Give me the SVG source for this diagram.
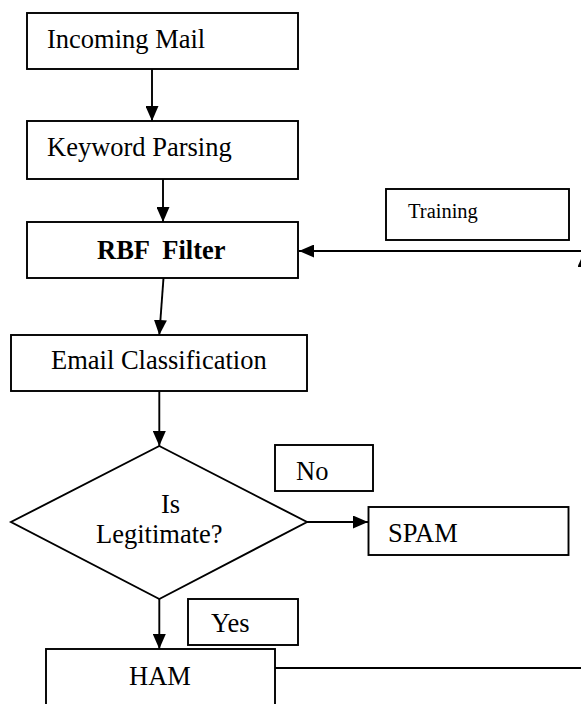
<svg xmlns="http://www.w3.org/2000/svg" width="581" height="704" viewBox="0 0 581 704">
  <style>
    .box { fill: #ffffff; stroke: #000000; stroke-width: 1.9; }
    .lbl { font-family: "Liberation Serif", "Times New Roman", serif; font-size: 26.5px; fill: #000000; }
    .small { font-size: 20.5px; }
    .bold { font-weight: bold; white-space: pre; }
    .wire { fill: none; stroke: #000000; stroke-width: 1.9; }
  </style>
  <defs>
    <marker id="arrow" markerUnits="userSpaceOnUse" markerWidth="15" markerHeight="13" refX="15" refY="6.5" orient="auto">
      <path d="M0,0 L15,6.5 L0,13 z" fill="#000000"/>
    </marker>
  </defs>

  <rect width="581" height="704" fill="#ffffff"/>

  <!-- flow connectors -->
  <g id="connectors">
    <line class="wire" x1="152" y1="69" x2="152" y2="121" marker-end="url(#arrow)"/>
    <line class="wire" x1="163" y1="179" x2="163" y2="222" marker-end="url(#arrow)"/>
    <line class="wire" x1="163.5" y1="278" x2="159.3" y2="335" marker-end="url(#arrow)"/>
    <line class="wire" x1="159.3" y1="391" x2="159.3" y2="446" marker-end="url(#arrow)"/>
    <line class="wire" x1="307" y1="522" x2="368" y2="522" marker-end="url(#arrow)"/>
    <line class="wire" x1="159.3" y1="599" x2="159.3" y2="649" marker-end="url(#arrow)"/>
    <!-- feedback loop from HAM back to the filter -->
    <polyline class="wire" points="275,668 584,668 584,252" marker-end="url(#arrow)"/>
    <line class="wire" x1="600" y1="251" x2="299" y2="251" marker-end="url(#arrow)"/>
  </g>

  <g id="incoming-mail">
    <rect class="box" x="27" y="13" width="271" height="56"/>
    <text class="lbl" x="47" y="48">Incoming Mail</text>
  </g>

  <g id="keyword-parsing">
    <rect class="box" x="27" y="121" width="271" height="58"/>
    <text class="lbl" x="47" y="156">Keyword Parsing</text>
  </g>

  <g id="training">
    <rect class="box" x="386" y="189" width="183" height="51"/>
    <text class="lbl small" x="408" y="218">Training</text>
  </g>

  <g id="rbf-filter">
    <rect class="box" x="27" y="222" width="271" height="56"/>
    <text class="lbl bold" x="97" y="259">RBF  Filter</text>
  </g>

  <g id="email-classification">
    <rect class="box" x="11" y="335" width="296" height="56"/>
    <text class="lbl" x="51" y="369">Email Classification</text>
  </g>

  <g id="is-legitimate">
    <polygon class="box" points="159.3,446 307,522 159.3,599 11,522"/>
    <text class="lbl" x="161" y="513">Is</text>
    <text class="lbl" x="96" y="543">Legitimate?</text>
  </g>

  <g id="no-label">
    <rect class="box" x="275" y="445" width="98" height="46"/>
    <text class="lbl" x="296" y="480">No</text>
  </g>

  <g id="spam">
    <rect class="box" x="368.5" y="507" width="200" height="48"/>
    <text class="lbl" x="388" y="542">SPAM</text>
  </g>

  <g id="yes-label">
    <rect class="box" x="188" y="599" width="110" height="46"/>
    <text class="lbl" x="211" y="632">Yes</text>
  </g>

  <g id="ham">
    <rect class="box" x="46" y="649" width="229" height="70"/>
    <text class="lbl" x="129" y="685">HAM</text>
  </g>
</svg>
